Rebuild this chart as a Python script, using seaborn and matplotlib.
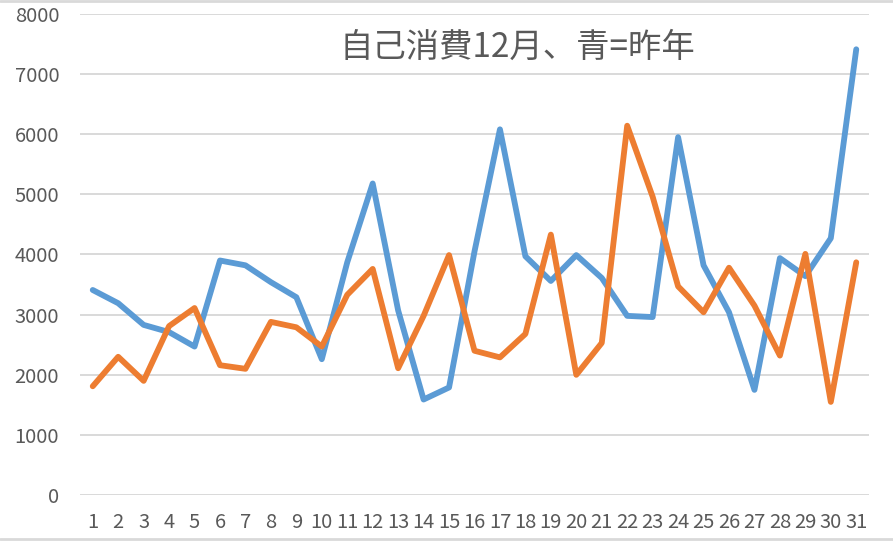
import matplotlib
matplotlib.use("Agg")
import pandas as pd
import matplotlib.pyplot as plt
import matplotlib.ticker as mticker
import seaborn as sns

# ── Data ──────────────────────────────────────────────────────────────────────
days = list(range(1, 32))
last_year = [3410, 3190, 2830, 2710, 2470, 3900, 3820, 3540, 3290, 2260,
             3870, 5180, 3070, 1590, 1790, 4050, 6080, 3970, 3560, 3990,
             3610, 2980, 2960, 5950, 3820, 3040, 1750, 3940, 3640, 4270,
             7410]
this_year = [1810, 2300, 1900, 2810, 3110, 2160, 2100, 2880, 2790, 2470,
             3330, 3760, 2110, 2980, 3990, 2400, 2290, 2680, 4330, 2000,
             2530, 6140, 4960, 3470, 3040, 3780, 3150, 2320, 4010, 1550,
             3870]
series_names = ["昨年", "今年"]
title = "自己消費12月、青=昨年"

# ── Style ─────────────────────────────────────────────────────────────────────
sns.set_theme(style="whitegrid")
plt.rcParams["font.family"] = ["Noto Sans CJK JP", "DejaVu Sans"]
TEXT = "#595959"
GRID = "#D9D9D9"
palette = {"昨年": "#5B9BD5", "今年": "#ED7D31"}

df = pd.DataFrame({
    "day": days * 2,
    "value": last_year + this_year,
    "series": [series_names[0]] * len(days) + [series_names[1]] * len(days),
})

fig = plt.figure(figsize=(8.93, 5.41), dpi=100)
ax = fig.add_axes([0.0896, 0.0847, 0.8835, 0.8898])

sns.lineplot(data=df, x="day", y="value", hue="series", palette=palette,
             linewidth=4.2, legend=False, ax=ax, sort=False)
for line in ax.lines:
    line.set_solid_capstyle("round")
    line.set_solid_joinstyle("round")

ax.set_xlim(0.5, 31.5)
ax.set_ylim(0, 8000)
ax.xaxis.set_major_locator(mticker.FixedLocator(days))
ax.yaxis.set_major_locator(mticker.MultipleLocator(1000))
ax.set_xlabel("")
ax.set_ylabel("")
ax.set_facecolor("white")
ax.grid(axis="x", visible=False)
ax.grid(axis="y", color=GRID, linewidth=1.4)
ax.set_axisbelow(True)
for s in ax.spines.values():
    s.set_visible(False)
ax.tick_params(axis="both", length=0, labelsize=14.5, labelcolor=TEXT)
ax.tick_params(axis="y", pad=15)
ax.tick_params(axis="x", pad=12)

fig.text(517 / 893, 1 - 47 / 541, title, ha="center", va="center",
         fontsize=24, color=TEXT)

# thin grey frame lines at top and bottom of the picture
fig.add_artist(plt.Line2D([0, 1], [0.999, 0.999], color=GRID, linewidth=2,
                          transform=fig.transFigure))
fig.add_artist(plt.Line2D([0, 1], [0.003, 0.003], color=GRID, linewidth=2,
                          transform=fig.transFigure))

fig.savefig("out.png", dpi=100, facecolor="white")
plt.close(fig)
